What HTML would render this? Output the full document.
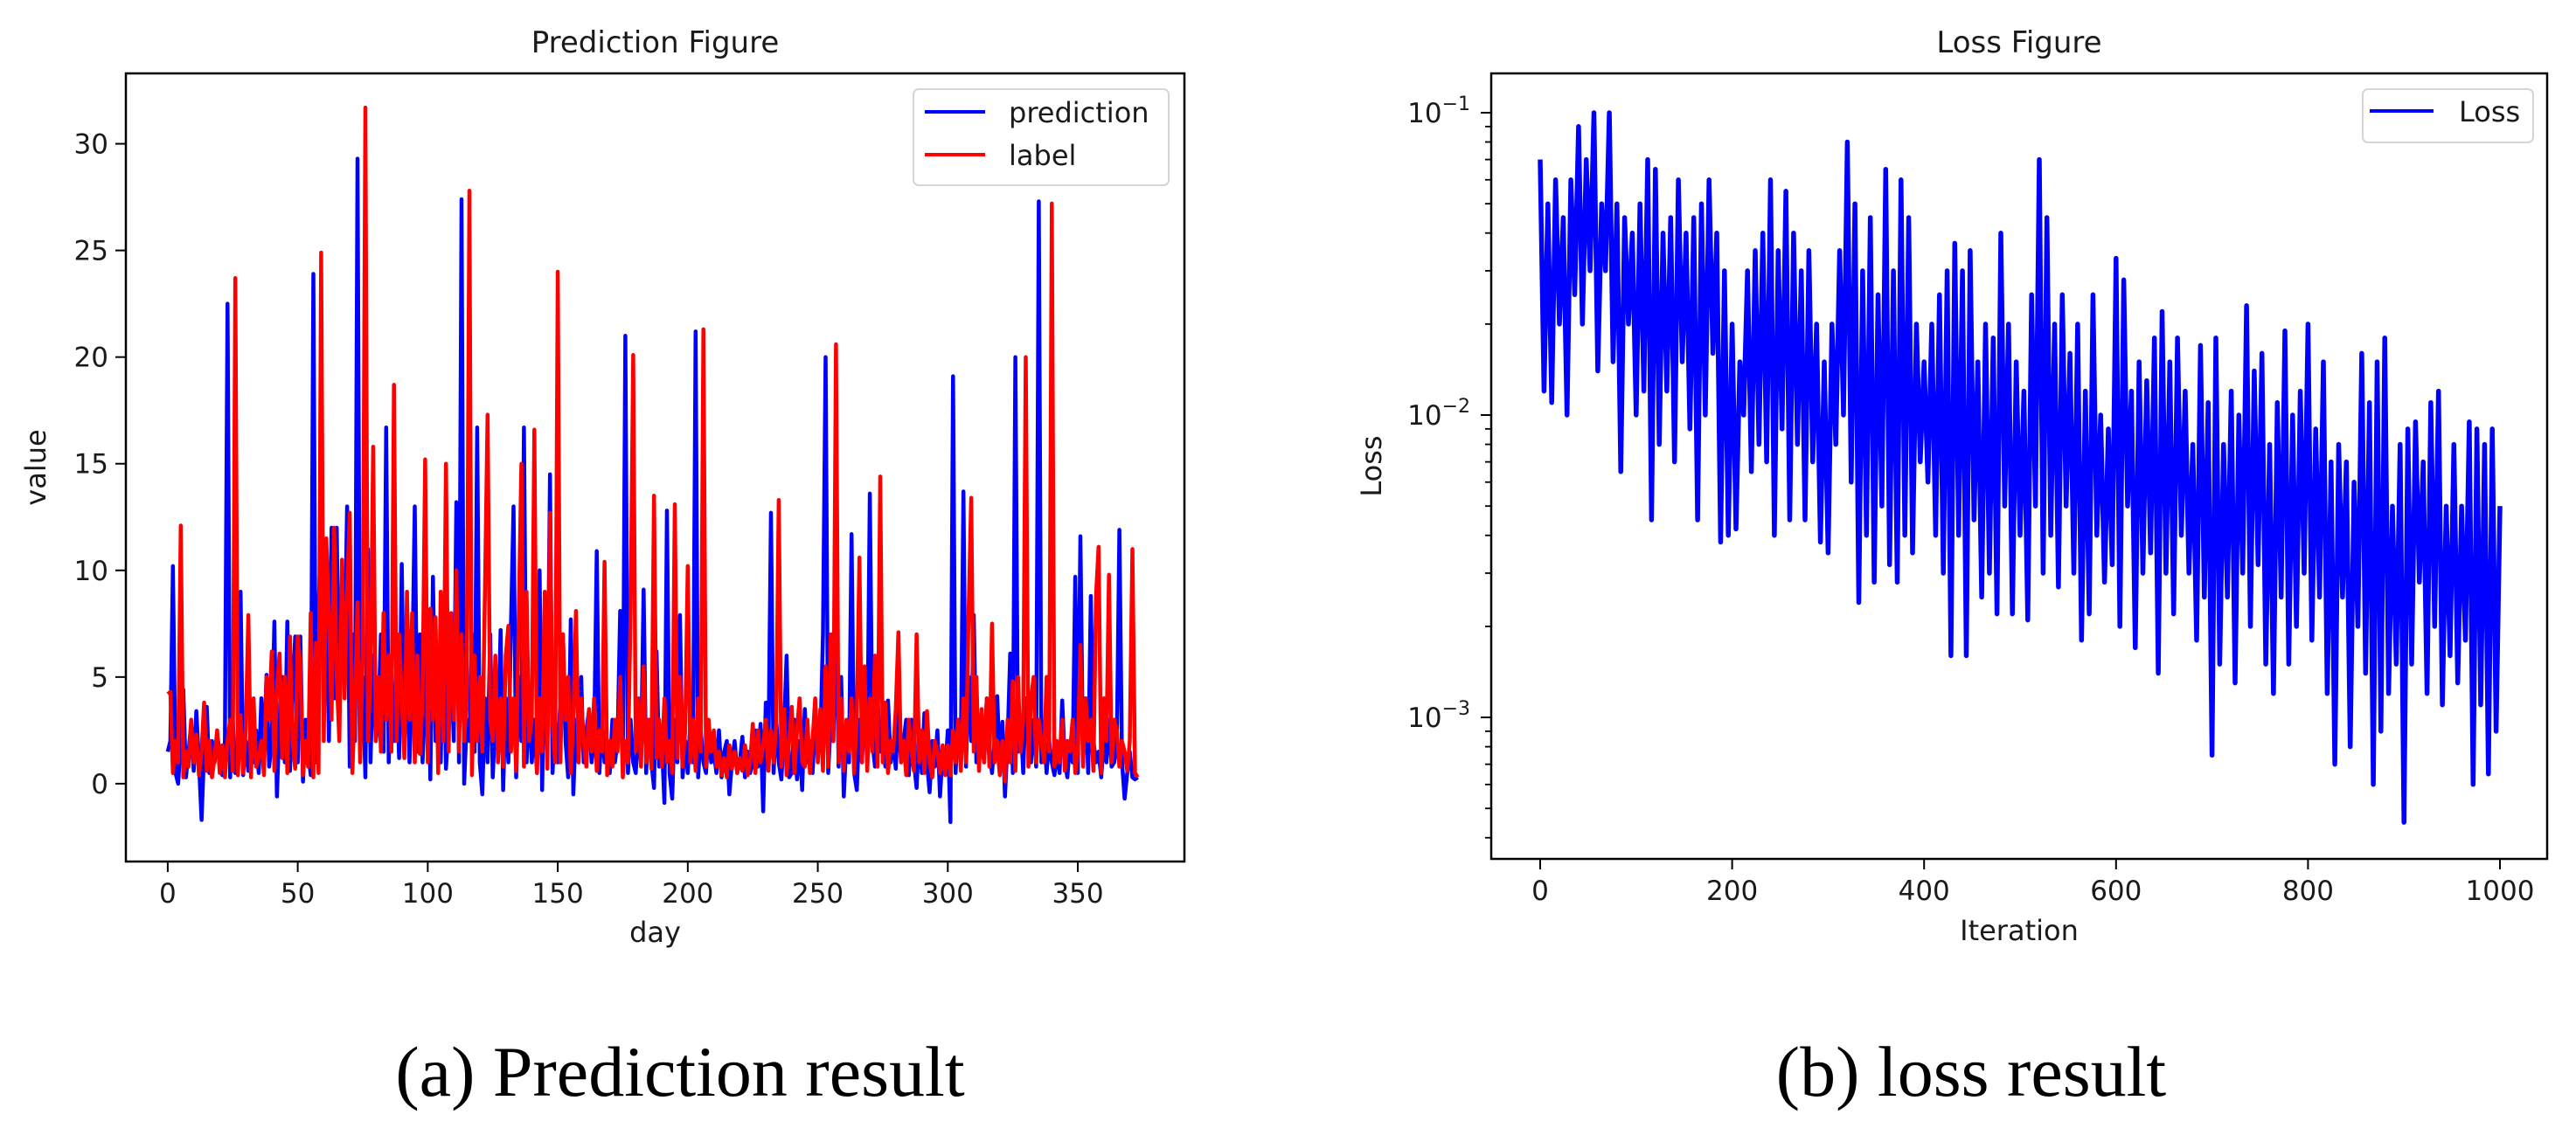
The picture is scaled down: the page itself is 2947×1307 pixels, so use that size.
<!DOCTYPE html>
<html><head><meta charset="utf-8"><style>
html,body{margin:0;padding:0;background:#fff;}
svg{display:block;}
text{font-family:"DejaVu Sans","Liberation Sans",sans-serif;fill:#1a1a1a;}
.cap{font-family:"Liberation Serif",serif;fill:#000;}
</style></head><body>
<svg id="fig" width="2947" height="1307" viewBox="0 0 2947 1307" xmlns="http://www.w3.org/2000/svg">
<rect x="0" y="0" width="2947" height="1307" fill="#fff"/>
<g id="left"></g>
<g id="right"></g>
<text class="cap" x="778" y="1254" font-size="82" text-anchor="middle">(a) Prediction result</text>
<text class="cap" x="2255" y="1254" font-size="82" text-anchor="middle">(b) loss result</text>
</svg>
<script>
const labelValues=[4.2,4.3,0.5,2,1,12.1,0.3,1.5,0.8,3,
1,2.3,0.4,1.5,3.8,0.6,2,0.3,1.2,2.5,
0.5,1.8,0.3,2,3,0.6,23.7,0.4,3.2,0.5,
2.5,7.9,0.3,4,0.8,1.2,2,0.4,5,3,
6.2,0.6,4.5,6.1,1.2,5,0.5,6.9,2,0.7,
6.9,5.5,0.4,2,0.8,8,0.3,6.6,0.5,24.9,
2,11.5,8,3,12,5,2,10.5,4,9,
12.7,0.5,4,8.5,1,6,31.7,2,5,15.8,
2,5,1.5,8,3,6,1.5,18.7,2,7,
4,1.2,9,3,8,1,6,1.4,4,15.2,
1,8.2,3,7.8,0.5,9,2,15,1.5,8,
3,10,1.5,7,2,4,27.8,0.4,6,2,
5,1.5,9,17.3,3,2,6,1,4,0.8,
6,7.4,1.5,4,0.6,8,15,0.8,9,2,
3,16.6,0.5,4,1.5,9,0.7,12.7,3,1,
24,1,7,3,5,0.5,3,8.1,1,4,
2,0.8,3.5,1.5,4,0.6,2.5,1.5,10.4,0.4,
2,0.8,3,1.5,5,0.3,2,1,8,20.1,
1.5,4,0.8,5.5,1,3,0.7,13.5,1.2,3,
0.8,4,1,2,0.5,13.1,1.2,5,0.8,2.5,
10.2,1,3,0.6,4,1.5,21.3,0.8,3,1.5,
2.5,0.8,1.5,0.4,1.2,0.3,1.8,0.7,1.5,0.5,
1.2,0.6,1.8,0.4,1,2.8,0.5,2.5,1,1.8,
3,0.6,2.5,1,2.8,13.3,0.8,3.5,0.4,2,
3.6,0.5,2.5,4,1,0.8,3,0.5,2,4,
1,3.5,0.6,5.5,0.8,7,2,20.6,1,4,
0.6,3,1.5,4,0.5,3,10.6,1,5.5,0.6,
4,1.5,6,0.8,14.4,1,3.8,0.5,2,1.5,
3.5,7.1,1,2,0.4,3,1.5,0.6,7,1,
2.5,0.5,3.4,1,0.3,2,1.5,0.5,1.8,0.4,
1.8,0.4,2.5,1,3,0.6,4,1,8,13.4,
1.5,5,0.6,3.5,1,4,0.8,7.5,1,2,
0.4,2,0.1,3,1,4.8,0.6,5,1.5,3,
20,0.8,4,5,1,3,2,1,5,1.5,
27.2,0.8,2,1,3,0.6,2,1.5,3,0.5,
1.5,6.5,0.8,4,2,3,0.6,8.8,11.1,0.5,
4,2,9.8,1,3,2.5,0.8,2,1.5,0.6,
2,11,0.5,0.3];
const predValues=[1.5,2,10.2,0.5,0,2,4.4,0.3,1.5,2.8,
0.6,3.4,1,-1.7,1.5,3.6,0.5,2,1,2.3,
1.5,0.4,2,22.5,0.3,3,0.5,1,9,0.4,
2,0.6,3,1,2.5,0.5,4,1.5,5.1,0.8,
2,7.6,-0.6,3,5,1,7.6,0.6,4,6.9,
1,6.9,0.1,3,1.5,0.4,23.9,1,8,12,
3,9,2,12,4,12,3,8,6,13,
0.8,7,2,29.3,1.5,5,0.3,11,1,6,
2,3,7,1.5,16.7,1,6,2,5,1.2,
10.3,2,6,1,5,13,1.5,7,1,4,
8,0.2,9.7,2,6,1,8,0.7,3,6,
2,13.2,1,27.4,0,3,2,7,1.5,16.7,
1,-0.5,4,1,7,0.3,3,2,7.2,-0.3,
4,1,7.5,13,0.3,5,2,16.7,1,4,
1,3,0.5,10,-0.3,6,2,14.5,0.5,3,
1,4,7,2,0.3,7.7,-0.5,3,1,5,
1,2.5,3.4,1,2,10.9,0.5,3,1,2,
0.5,3,1,2,8.1,1,21,0.5,3,1,
0.5,2.5,1,9.1,0.5,3,1,-0.2,6.2,0.8,
2,-0.9,12.8,0.5,-0.7,3,1,7.9,0.3,2,
0.5,3,1,21.2,0.3,2.5,1,0.5,2.5,1,
1.5,0.5,2.5,0.3,1.5,2,-0.5,1,2,0.5,
1,2.2,0.3,1.5,0.5,1,2.5,0.8,2.8,-1.3,
3.8,1,12.7,0.5,3,1,0.2,2.5,6,0.3,
0.5,3,0.2,2,-0.3,3.5,1,2,0.5,3,
1.5,2,7,20,0.5,3,2,8.6,0.8,5,
-0.6,2,1,11.7,0.5,-0.3,3,1,4,1,
13.6,2,0.8,4,1.5,2,0.8,3.9,1,2,
0.7,3.7,1,2,3,0.4,3,1,-0.2,2.5,
0.5,3.3,1,-0.4,2,0.8,2.5,-0.6,1.5,0.5,
2.5,-1.8,19.1,0.5,3,1.5,13.7,0.8,5,2,
7.9,1,3,2,1,4,1.5,0.5,2,4.1,
1,2.9,-0.6,2,6.1,0.5,20,1.5,3,0.5,
4,2,1,3,0.8,27.3,1,2.6,0.5,2,
1,0.4,1.5,0.5,3.9,1,0.3,2,1,9.7,
0.5,11.6,1,4,0.5,8.8,2,1,1.5,0.3,
2,1,3,0.8,1,2,11.9,1,-0.7,0.5,
1.5,0.3,0.2,0.3];
const dayTicks=[0,50,100,150,200,250,300,350];
const valueTicks=[0,5,10,15,20,25,30];
const lossStep=4;
const lossValues=[0.07,0.012,0.05,0.011,0.06,0.02,0.045,0.01,0.06,0.025,0.09,0.02,0.07,0.03,0.1,0.014,0.05,0.03,0.1,0.015,0.05,0.0065,0.045,0.02,0.04,
0.01,0.05,0.012,0.07,0.0045,0.065,0.008,0.04,0.012,0.045,0.007,0.06,0.015,0.04,0.009,0.045,0.0045,0.05,0.01,0.06,0.016,0.04,0.0038,0.03,0.004,
0.02,0.0042,0.015,0.01,0.03,0.0065,0.035,0.008,0.04,0.007,0.06,0.004,0.035,0.009,0.055,0.0045,0.04,0.008,0.03,0.0045,0.035,0.007,0.02,0.0038,0.015,
0.0035,0.02,0.008,0.035,0.01,0.08,0.006,0.05,0.0024,0.03,0.004,0.045,0.0028,0.025,0.005,0.065,0.0032,0.03,0.0028,0.06,0.004,0.045,0.0035,0.02,0.007,
0.015,0.006,0.02,0.004,0.025,0.003,0.03,0.0016,0.037,0.004,0.03,0.0016,0.035,0.0045,0.015,0.0025,0.02,0.003,0.018,0.0022,0.04,0.005,0.02,0.0022,0.015,
0.004,0.012,0.0021,0.025,0.005,0.07,0.003,0.045,0.004,0.02,0.0027,0.025,0.005,0.016,0.003,0.02,0.0018,0.012,0.0022,0.025,0.004,0.01,0.0028,0.009,0.0032,
0.033,0.002,0.028,0.005,0.012,0.0017,0.015,0.003,0.013,0.0035,0.018,0.0014,0.022,0.003,0.015,0.0022,0.018,0.004,0.012,0.003,0.008,0.0018,0.017,0.0025,0.011,
0.00075,0.018,0.0015,0.008,0.0025,0.012,0.0013,0.01,0.003,0.023,0.002,0.014,0.0032,0.016,0.0015,0.008,0.0012,0.011,0.0025,0.019,0.0015,0.01,0.002,0.012,0.003,
0.02,0.0018,0.009,0.0025,0.015,0.0012,0.007,0.0007,0.008,0.0025,0.007,0.0008,0.006,0.002,0.016,0.0014,0.011,0.0006,0.015,0.0009,0.018,0.0012,0.005,0.0015,0.008,
0.00045,0.009,0.0015,0.0095,0.0028,0.007,0.0012,0.011,0.002,0.012,0.0011,0.005,0.0016,0.008,0.0013,0.005,0.0018,0.0095,0.0006,0.009,0.0011,0.008,0.00065,0.009,0.0009,
0.005];
const iterTicks=[0,200,400,600,800,1000];
const lossDecades=[-1,-2,-3];

const NS='http://www.w3.org/2000/svg';
function mk(parent,tag,attrs,txt){const e=document.createElementNS(NS,tag);for(const k in attrs)e.setAttribute(k,attrs[k]);if(txt!==undefined)e.textContent=txt;parent.appendChild(e);return e;}

// Left chart
(function(){
const g=document.getElementById('left');
const L=144,R=1355,T=84,B=986;
const xMin=-16.1,xMax=391,yMin=-3.65,yMax=33.3;
const sx=v=>L+(v-xMin)/(xMax-xMin)*(R-L);
const sy=v=>B-(v-yMin)/(yMax-yMin)*(B-T);
const title=mk(g,'text',{x:(L+R)/2,y:60,'font-size':34,'text-anchor':'middle'},'Prediction Figure');


dayTicks.forEach(t=>{
 const tk=mk(g,'line',{x1:sx(t),x2:sx(t),y1:B,y2:B+12,stroke:'#000','stroke-width':2});
 
 
 const lb=mk(g,'text',{x:sx(t),y:B+47,'font-size':31,'text-anchor':'middle'},String(t));
 
 
});
valueTicks.forEach(t=>{
 const tk=mk(g,'line',{x1:L-12,x2:L,y1:sy(t),y2:sy(t),stroke:'#000','stroke-width':2});
 
 
 const lb=mk(g,'text',{x:L-20,y:sy(t)+11,'font-size':31,'text-anchor':'end'},String(t));
 
 
});
const xl=mk(g,'text',{x:(L+R)/2,y:1078,'font-size':32,'text-anchor':'middle'},'day');


const yl=mk(g,'text',{x:0,y:0,'font-size':32,'text-anchor':'middle',transform:`translate(52,${(T+B)/2}) rotate(-90)`},'value');


const cp=mk(g,'clipPath',{id:'clipL'});mk(cp,'rect',{x:L,y:T,width:R-L,height:B-T});
const pts=a=>a.map((v,i)=>sx(i).toFixed(1)+','+sy(v).toFixed(1)).join(' ');
const p1=mk(g,'polyline',{points:pts(predValues),fill:'none',stroke:'#0000ff','stroke-width':4.5,'stroke-linejoin':'round','clip-path':'url(#clipL)'});


const p2=mk(g,'polyline',{points:pts(labelValues),fill:'none',stroke:'#ff0000','stroke-width':4.5,'stroke-linejoin':'round','clip-path':'url(#clipL)'});


const fr=mk(g,'rect',{x:L,y:T,width:R-L,height:B-T,fill:'none',stroke:'#000','stroke-width':2.5});


const lg=mk(g,'g',{});


mk(lg,'rect',{x:1045,y:102,width:292,height:110,rx:6,fill:'#fff','fill-opacity':0.8,stroke:'#d5d5d5','stroke-width':2});
mk(lg,'line',{x1:1058,x2:1127,y1:128,y2:128,stroke:'#0000ff','stroke-width':4});
const t1=mk(lg,'text',{x:1154,y:140,'font-size':32},'prediction');


mk(lg,'line',{x1:1058,x2:1127,y1:177,y2:177,stroke:'#ff0000','stroke-width':4});
const t2=mk(lg,'text',{x:1154,y:189,'font-size':32},'label');


})();

// Right chart
(function(){
const g=document.getElementById('right');
const L=1706,R=2914,T=84,B=983;
const x0=1762,xPer=1098/1000;
const lMin=-3.468,lMax=-0.87;
const sx=v=>x0+v*xPer;
const sy=v=>B-(Math.log10(v)-lMin)/(lMax-lMin)*(B-T);
const title=mk(g,'text',{x:(L+R)/2,y:60,'font-size':34,'text-anchor':'middle'},'Loss Figure');


iterTicks.forEach(t=>{
 const tk=mk(g,'line',{x1:sx(t),x2:sx(t),y1:B,y2:B+12,stroke:'#000','stroke-width':2});
 
 
 const lb=mk(g,'text',{x:sx(t),y:B+47,'font-size':31,'text-anchor':'middle'},String(t));
 
 
});
lossDecades.forEach(d=>{
 const y=sy(Math.pow(10,d));
 const tk=mk(g,'line',{x1:L-12,x2:L,y1:y,y2:y,stroke:'#000','stroke-width':2});
 
 
 const lb=mk(g,'text',{x:L-24,y:y+11,'font-size':31,'text-anchor':'end'});
 
 
 mk(lb,'tspan',{},'10');
 mk(lb,'tspan',{dy:-14,'font-size':22},'\u2212'+(-d));
 for(let m=2;m<=9;m++){
  const v=m*Math.pow(10,d);const yy=sy(v);
  if(yy<T||yy>B)continue;
  const mt=mk(g,'line',{x1:L-7,x2:L,y1:yy,y2:yy,stroke:'#000','stroke-width':1.8});
  
  
 }
 for(let m=2;m<=9;m++){
  const v=m*Math.pow(10,d-1);const yy=sy(v);
  if(d!==-3||yy<T||yy>B)continue;
  const mt=mk(g,'line',{x1:L-7,x2:L,y1:yy,y2:yy,stroke:'#000','stroke-width':1.8});
  
  
 }
});
const xl=mk(g,'text',{x:(L+R)/2,y:1076,'font-size':32,'text-anchor':'middle'},'Iteration');


const yl=mk(g,'text',{x:0,y:0,'font-size':32,'text-anchor':'middle',transform:`translate(1580,${(T+B)/2}) rotate(-90)`},'Loss');


const cp=mk(g,'clipPath',{id:'clipR'});mk(cp,'rect',{x:L,y:T,width:R-L,height:B-T});
const pts=lossValues.map((v,i)=>sx(i*lossStep).toFixed(1)+','+sy(v).toFixed(1)).join(' ');
const pl=mk(g,'polyline',{points:pts,fill:'none',stroke:'#0000ff','stroke-width':5.5,'stroke-linejoin':'round','clip-path':'url(#clipR)'});


const fr=mk(g,'rect',{x:L,y:T,width:R-L,height:B-T,fill:'none',stroke:'#000','stroke-width':2.5});


const lg=mk(g,'g',{});


mk(lg,'rect',{x:2703,y:102,width:195,height:61,rx:6,fill:'#fff','fill-opacity':0.8,stroke:'#d5d5d5','stroke-width':2});
mk(lg,'line',{x1:2711,x2:2784,y1:127,y2:127,stroke:'#0000ff','stroke-width':4});
const t1=mk(lg,'text',{x:2813,y:139,'font-size':32},'Loss');


})();
</script>
</body></html>
